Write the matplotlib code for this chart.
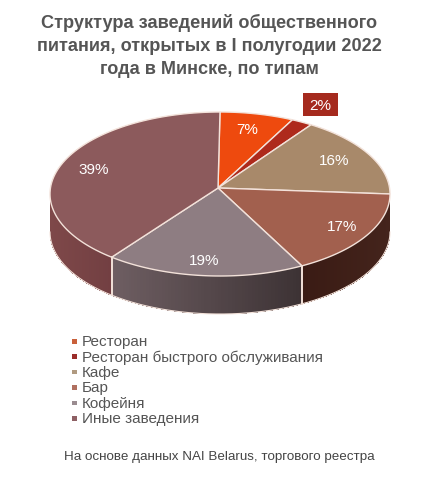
import numpy as np
import matplotlib
matplotlib.use("Agg")
import matplotlib.pyplot as plt
from matplotlib.patches import Polygon, Rectangle
from matplotlib.colors import to_rgb

# ---- data ----
title = "Структура заведений общественного\nпитания, открытых в I полугодии 2022\nгода в Минске, по типам"
categories = ["Ресторан", "Ресторан быстрого обслуживания", "Кафе", "Бар", "Кофейня", "Иные заведения"]
values = [7, 2, 16, 17, 19, 39]
labels = ["7%", "2%", "16%", "17%", "19%", "39%"]
top_colors = ["#EE4A0E", "#AE2A1C", "#A8896A", "#A2604E", "#8E7D82", "#8C5A5C"]
# side shading: (left colour, right colour)
side_colors = [("#B83808", "#B83808"), ("#85200F", "#85200F"), ("#7F6650", "#7F6650"),
               ("#3A1B14", "#44241C"), ("#6E5E62", "#3C3234"), ("#7E4849", "#723F42")]
bullet_colors = ["#C9603A", "#9B2D2A", "#B09A80", "#B07060", "#9A8C90", "#8E6064"]
source = "На основе данных NAI Belarus, торгового реестра"

plt.rcParams['font.family'] = ['Liberation Sans', 'DejaVu Sans']

fig = plt.figure(figsize=(4.4, 4.81), dpi=100)
ax = fig.add_axes([0, 0, 1, 1])
ax.set_xlim(0, 440)
ax.set_ylim(481, 0)
ax.axis('off')

cx, cy, rx, ry, depth = 220, 195, 170, 82, 38
pcx, pcy = 218, 189
edge = "#F3E2DA"

def rim(t, dy=0.0):
    t = np.radians(t)
    return np.column_stack([cx + rx * np.cos(t), cy + ry * np.sin(t) + dy])

fr = np.array(values, dtype=float) / sum(values)
bounds = -90 + 360 * np.concatenate([[0], np.cumsum(fr)])

# sides (front half only)
for i in range(len(values)):
    a0, a1 = max(bounds[i], 0), min(bounds[i + 1], 180)
    if a1 <= a0:
        continue
    n = 60
    ts = np.linspace(a0, a1, n + 1)
    xs = rim(ts)[:, 0]
    xmin, xmax = xs.min(), xs.max()
    cL, cR = np.array(to_rgb(side_colors[i][0])), np.array(to_rgb(side_colors[i][1]))
    for k in range(n):
        seg = np.linspace(ts[k], min(ts[k + 1] + 0.4, a1), 3)
        top = rim(seg)
        bot = rim(seg[::-1], depth)
        f = (top[:, 0].mean() - xmin) / (xmax - xmin)
        col = cL * (1 - f) + cR * f
        ax.add_patch(Polygon(np.vstack([top, bot]), closed=True, fc=col, ec="none",
                             antialiased=False))
    for a in (a0, a1):
        if 0 < a < 180:
            p = rim([a])[0]
            ax.plot([p[0], p[0]], [p[1], p[1] + depth], color=edge, lw=1.2)

# outer outline of side
tt = np.linspace(0, 180, 200)
bb = rim(tt, depth)
ax.plot(bb[:, 0], bb[:, 1], color=edge, lw=0.8)

# top wedges
for i in range(len(values)):
    ts = np.linspace(bounds[i], bounds[i + 1], 80)
    pts = np.vstack([[pcx, pcy], rim(ts)])
    ax.add_patch(Polygon(pts, closed=True, fc=top_colors[i], ec=edge, lw=1.0))

# labels
lcy = 192
for i in range(len(values)):
    if i == 1:
        continue
    tm = np.radians((bounds[i] + bounds[i + 1]) / 2)
    r = 0.85 if np.sin(tm) > 0 else 0.78
    x = pcx + r * rx * np.cos(tm)
    y = lcy + r * ry * np.sin(tm)
    ax.text(x, y, labels[i], color="white", fontsize=11, ha="center", va="center")

# outside label for the 2% slice
ax.add_patch(Rectangle((303, 94), 35, 23, fc="#A52A1E", ec="none"))
ax.text(320.5, 105.5, labels[1], color="white", fontsize=11, ha="center", va="center")

# title
ax.text(209, 46, title, ha="center", va="center", fontsize=13.1, fontweight="bold",
        color="#555555", linespacing=1.45)

# legend
ly0, lstep = 342, 15.4
for i, name in enumerate(categories):
    y = ly0 + i * lstep
    ax.add_patch(Rectangle((72, y - 2), 4.5, 4.5, fc=bullet_colors[i], ec="none"))
    ax.text(82, y, name, fontsize=11, color="#555555", ha="left", va="center")

ax.text(219, 457, source, fontsize=9.6, color="#444444", ha="center", va="center")

fig.savefig("out.png", dpi=100, facecolor="white")
